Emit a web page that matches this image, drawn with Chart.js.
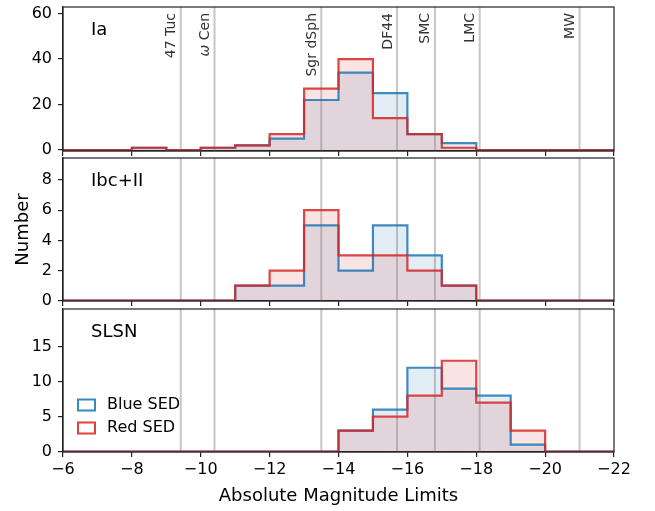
<!DOCTYPE html>
<html>
<head>
<meta charset="utf-8">
<script src="https://cdn.jsdelivr.net/npm/chart.js@4.4.1/dist/chart.umd.min.js"></script>
<style>
html, body { margin: 0; padding: 0; background: #fff; }
#wrap { position: relative; width: 655px; height: 511px; }
canvas { position: absolute; left: 0; }
</style>
</head>
<body>
<div id="wrap">
  <canvas id="ia" width="655" height="157" style="top:0px"></canvas>
  <canvas id="ibc" width="655" height="155" style="top:152px"></canvas>
  <canvas id="slsn" width="655" height="209" style="top:302px"></canvas>
</div>
<script>
// bin edges (absolute magnitude), one bin = 1 mag
var binEdges = [-6, -7, -8, -9, -10, -11, -12, -13, -14, -15, -16, -17, -18, -19, -20, -21, -22];

// counts per bin
var iaBlue   = [0, 0, 1, 0, 1, 2, 5, 22, 34, 25, 7, 3, 0, 0, 0, 0];
var iaRed    = [0, 0, 1, 0, 1, 2, 7, 27, 40, 14, 7, 1, 0, 0, 0, 0];
var ibcBlue  = [0, 0, 0, 0, 0, 1, 1, 5, 2, 5, 3, 1, 0, 0, 0, 0];
var ibcRed   = [0, 0, 0, 0, 0, 1, 2, 6, 3, 3, 2, 1, 0, 0, 0, 0];
var slsnBlue = [0, 0, 0, 0, 0, 0, 0, 0, 3, 6, 12, 9, 8, 1, 0, 0];
var slsnRed  = [0, 0, 0, 0, 0, 0, 0, 0, 3, 5, 8, 13, 7, 3, 0, 0];

// reference objects
var refNames = ['47 Tuc', '\u03c9 Cen', 'Sgr dSph', 'DF44', 'SMC', 'LMC', 'MW'];
var refMags  = [-9.42, -10.4, -13.5, -15.7, -16.8, -18.1, -21.0];

// tick labels
var xTicks    = [-6, -8, -10, -12, -14, -16, -18, -20, -22];
var iaTicks   = [0, 20, 40, 60];
var ibcTicks  = [0, 2, 4, 6, 8];
var slsnTicks = [0, 5, 10, 15];

var blueLine = 'rgba(31,119,180,0.85)';
var redLine  = 'rgba(214,39,40,0.85)';
var blueFill = 'rgba(31,119,180,0.13)';
var redFill  = 'rgba(214,39,40,0.13)';
var frame    = '#222';

Chart.defaults.font.family = 'DejaVu Sans';
Chart.defaults.color = '#000';

function steps(counts) {
  return binEdges.map(function (x, i) {
    return { x: x, y: counts[Math.min(i, counts.length - 1)] };
  });
}

function minusFmt(v) {
  return v < 0 ? '\u2212' + (-v) : String(v);
}

// gray vertical lines, drawn over the fills but under the step lines
var refLines = {
  id: 'refLines',
  beforeDatasetDraw: function (chart, args) {
    if (args.index !== 1) return;
    var ctx = chart.ctx, a = chart.chartArea, xs = chart.scales.x;
    ctx.save();
    ctx.beginPath();
    ctx.rect(a.left, a.top, a.width, a.height);
    ctx.clip();
    ctx.strokeStyle = 'rgba(128,128,128,0.45)';
    ctx.lineWidth = 2;
    refMags.forEach(function (m) {
      var px = xs.getPixelForValue(m);
      ctx.beginPath();
      ctx.moveTo(px, a.top);
      ctx.lineTo(px, a.bottom);
      ctx.stroke();
    });
    ctx.restore();
  }
};

var decor = {
  id: 'decor',
  afterDraw: function (chart, args, opts) {
    var ctx = chart.ctx, a = chart.chartArea, xs = chart.scales.x;
    ctx.save();
    ctx.strokeStyle = frame;
    ctx.lineWidth = 1.2;
    ctx.strokeRect(a.left, a.top, a.width, a.height);

    ctx.fillStyle = '#000';
    ctx.font = '18px "DejaVu Sans"';
    ctx.textAlign = 'left';
    ctx.textBaseline = 'middle';
    ctx.fillText(opts.label, a.left + 28, a.top + 23);

    if (opts.refText) {
      var upright = '14px "DejaVu Sans"', slanted = 'italic 14px "DejaVu Sans"';
      ctx.fillStyle = '#333';
      refNames.forEach(function (name, i) {
        var px = xs.getPixelForValue(refMags[i]);
        // greek first letter (omega) is set in italic, like a math symbol
        var head = name.charAt(0) === '\u03c9' ? name.charAt(0) : '';
        var rest = name.slice(head.length);
        ctx.font = slanted;
        var wHead = head ? ctx.measureText(head).width : 0;
        ctx.font = upright;
        var wRest = ctx.measureText(rest).width;
        ctx.save();
        ctx.translate(px - 5.5, a.top + 6);
        ctx.rotate(-Math.PI / 2);
        ctx.textAlign = 'left';
        ctx.textBaseline = 'alphabetic';
        var start = -(wHead + wRest);
        if (head) {
          ctx.font = slanted;
          ctx.fillText(head, start, 0);
        }
        ctx.font = upright;
        ctx.fillText(rest, start + wHead, 0);
        ctx.restore();
      });
    }

    if (opts.legend) {
      var items = [['Blue SED', 'rgb(55,135,192)', a.bottom - 47], ['Red SED', 'rgb(220,64,66)', a.bottom - 24]];
      ctx.font = '16px "DejaVu Sans"';
      items.forEach(function (it) {
        ctx.strokeStyle = it[1];
        ctx.lineWidth = 2;
        ctx.strokeRect(a.left + 15, it[2] - 5.5, 17, 11);
        ctx.fillStyle = '#000';
        ctx.textBaseline = 'middle';
        ctx.fillText(it[0], a.left + 44, it[2]);
      });
    }
    ctx.restore();
  }
};

function makeChart(id, blue, red, yTicks, yMin, yMax, opt) {
  var ctx = document.getElementById(id).getContext('2d');
  return new Chart(ctx, {
    type: 'line',
    data: {
      datasets: [
        { data: steps(red), borderColor: redLine, borderWidth: 2.2, fill: false, stepped: true, pointRadius: 0 },
        { data: steps(blue), borderColor: blueLine, borderWidth: 2.2, fill: false, stepped: true, pointRadius: 0 },
        { data: steps(red), borderColor: 'transparent', borderWidth: 0, backgroundColor: redFill, fill: 'origin', stepped: true, pointRadius: 0 },
        { data: steps(blue), borderColor: 'transparent', borderWidth: 0, backgroundColor: blueFill, fill: 'origin', stepped: true, pointRadius: 0 }
      ]
    },
    options: {
      responsive: false,
      animation: false,
      devicePixelRatio: 1,
      layout: { padding: { top: opt.padTop, right: 41, left: 0, bottom: 0 } },
      plugins: {
        legend: { display: false },
        tooltip: { enabled: false },
        decor: { label: opt.label, refText: !!opt.refText, legend: !!opt.legend }
      },
      scales: {
        x: {
          type: 'linear',
          reverse: true,
          min: -22,
          max: -6,
          afterBuildTicks: function (s) { s.ticks = xTicks.map(function (v) { return { value: v }; }); },
          afterFit: function (s) {
            s.height = opt.xHeight;
            s.paddingLeft = 0; s.paddingRight = 0;
          },
          grid: { display: true, drawOnChartArea: false, drawTicks: true, tickLength: 5, color: frame, lineWidth: 1.2 },
          border: { display: true, color: frame, width: 1.2 },
          ticks: { display: !!opt.xLabels, padding: 3, maxRotation: 0, autoSkip: false, font: { size: 16 }, callback: minusFmt },
          title: { display: !!opt.xLabels, text: 'Absolute Magnitude Limits', font: { size: 18 }, padding: { top: 0, bottom: 4 } }
        },
        y: {
          min: yMin,
          max: yMax,
          afterBuildTicks: function (s) { s.ticks = yTicks.map(function (v) { return { value: v }; }); },
          afterFit: function (s) {
            s.width = 63;
            s.paddingTop = 0; s.paddingBottom = 0;
          },
          grid: { display: true, drawOnChartArea: false, drawTicks: true, tickLength: 5, color: frame, lineWidth: 1.2 },
          border: { display: true, color: frame, width: 1.2 },
          ticks: { padding: 6, font: { size: 16 }, callback: minusFmt },
          title: { display: !!opt.yTitle, text: 'Number', font: { size: 18 }, padding: { top: 13, bottom: 0 } }
        }
      }
    },
    plugins: [refLines, decor]
  });
}

makeChart('ia', iaBlue, iaRed, iaTicks, -0.44, 62.9, { padTop: 7, xHeight: 6, label: 'Ia', refText: true });
makeChart('ibc', ibcBlue, ibcRed, ibcTicks, -0.02, 9.46, { padTop: 6, xHeight: 6, label: 'Ibc+II', yTitle: true });
makeChart('slsn', slsnBlue, slsnRed, slsnTicks, -0.04, 20.39, { padTop: 7, xHeight: 59, label: 'SLSN', legend: true, xLabels: true });
</script>
</body>
</html>
